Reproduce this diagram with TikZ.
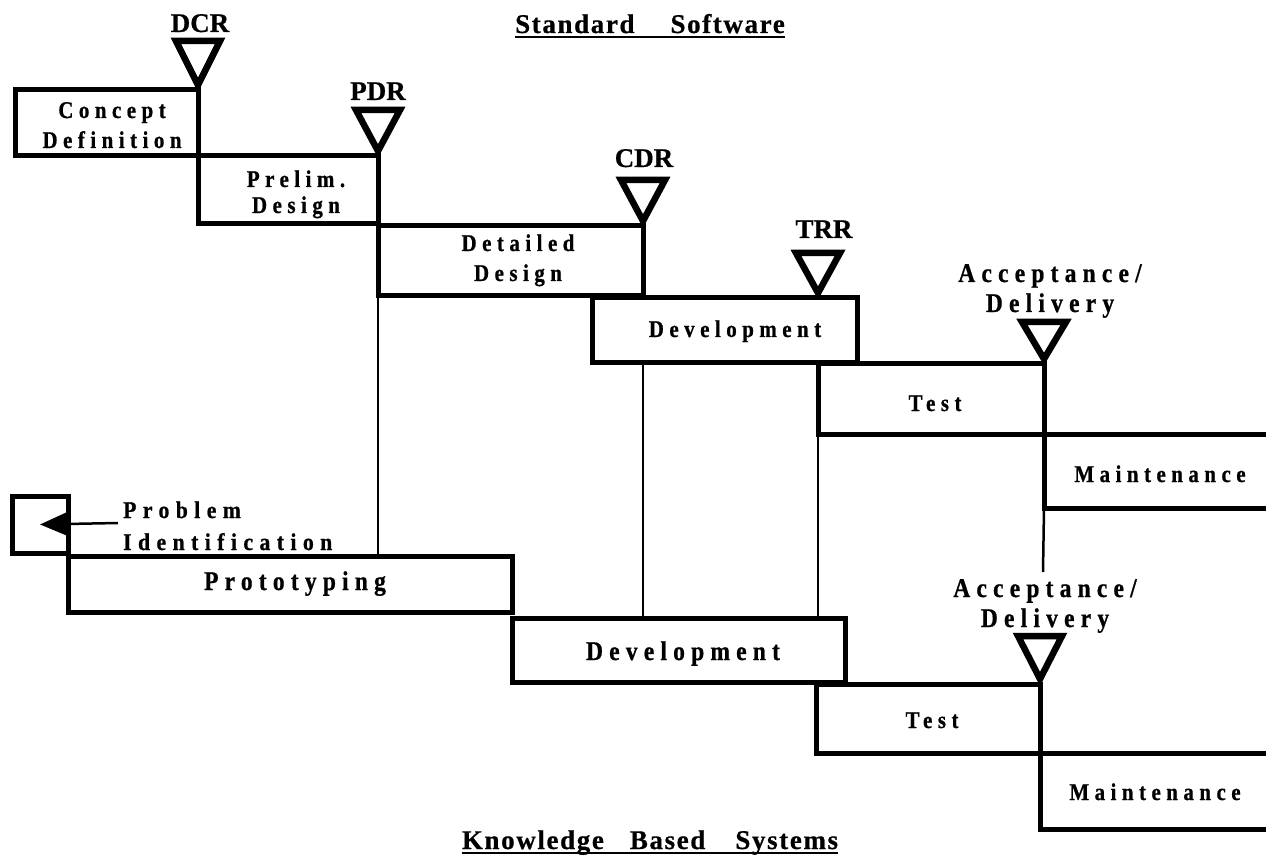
\documentclass[tikz,border=0pt]{standalone}
\usepackage{fontspec}
\setmainfont{Liberation Serif}
\newfontfamily\boxfont[LetterSpace=23,FakeStretch=0.87,FakeBold=0.8]{Liberation Serif}
\newfontfamily\probfont[LetterSpace=27,FakeStretch=0.9,FakeBold=0.8]{Liberation Serif}
\newfontfamily\titlefont[LetterSpace=6,FakeBold=0.6]{Liberation Serif}
\newfontfamily\revfont[FakeBold=0.6]{Liberation Serif}
\usetikzlibrary{arrows.meta}
\tikzset{
  stage/.style={draw, line width=5pt, inner sep=0pt, outer sep=0pt},
  conn/.style={line width=2.5pt},
  tri/.style={draw, line width=6.5pt, line join=miter},
  lbl/.style={inner sep=0pt, anchor=base, align=center,
    font=\boxfont\bfseries\fontsize{24}{30}\selectfont},
  lblbig/.style={inner sep=0pt, anchor=base, align=center,
    font=\boxfont\bfseries\fontsize{27}{30}\selectfont},
  acc/.style={inner sep=0pt, anchor=base, align=center,
    font=\boxfont\bfseries\fontsize{27}{30}\selectfont},
  review/.style={inner sep=0pt, anchor=base,
    font=\revfont\bfseries\fontsize{27}{30}\selectfont},
  ttl/.style={inner sep=0pt, anchor=base,
    font=\titlefont\bfseries\fontsize{27}{30}\selectfont},
  uline/.style={line width=2.5pt}
}
\begin{document}
\begin{tikzpicture}[x=1pt,y=-1pt]
\useasboundingbox (0,0) rectangle (1266,858);
\clip (0,0) rectangle (1266,858);

% titles
\node[ttl] (t1) at (650,33) {Standard\hspace{36pt}Software};
\draw[uline] ([yshift=-4pt]t1.base west) -- ([yshift=-4pt]t1.base east);
\node[ttl] (t2) at (650,849) {Knowledge\hspace{26pt}Based\hspace{30pt}Systems};
\draw[uline] ([yshift=-4pt]t2.base west) -- ([yshift=-4pt]t2.base east);

% standard software boxes
\node[stage, minimum width=183pt, minimum height=66pt] (concept) at (106.5,123) {};
\node[stage, minimum width=180pt, minimum height=68pt] (prelim) at (288,190) {};
\node[stage, minimum width=265pt, minimum height=70pt] (detailed) at (510.5,261) {};
\node[stage, minimum width=265pt, minimum height=65pt] (devtop) at (724.5,330.5) {};
\node[stage, minimum width=226pt, minimum height=70pt] (testtop) at (931,399) {};
\node[stage, minimum width=246pt, minimum height=74pt] (mainttop) at (1167,471) {};

% knowledge based boxes
\node[stage, minimum width=56pt, minimum height=57pt] (probbox) at (40,524.5) {};
\node[stage, minimum width=444pt, minimum height=56pt] (proto) at (290,584) {};
\node[stage, minimum width=333pt, minimum height=64pt] (devbot) at (678.5,650) {};
\node[stage, minimum width=224pt, minimum height=69pt] (testbot) at (928,718.5) {};
\node[stage, minimum width=250pt, minimum height=76pt] (maintbot) at (1165,791) {};

% labels in boxes (base = baseline of last line)
\node[lbl] (lconcept) at (112,148) {Concept\\Definition};
\node[lbl] (lprelim) at (296,213) {Prelim.\\[-4pt]Design};
\node[lbl] (ldetailed) at (518,281) {Detailed\\Design};
\node[lbl] (ldevtop) at (735,337) {Development};
\node[lbl] (ltesttop) at (935,411) {Test};
\node[lbl] (lmainttop) at (1160,482) {Maintenance};
\node[lblbig] (lproto) at (295,590) {Prototyping};
\node[lblbig] (ldevbot) at (683,660) {Development};
\node[lbl] (ltestbot) at (932,728) {Test};
\node[lbl] (lmaintbot) at (1155,800) {Maintenance};
\node[inner sep=0pt, anchor=base west, align=left,
  font=\probfont\bfseries\fontsize{24}{32}\selectfont] (lprob) at (123,550) {Problem\\Identification};

% thin connectors
\draw[conn] (detailed.south west) -- (detailed.south west |- proto.north);
\draw[conn] (detailed.south east |- devtop.south) -- (detailed.south east |- devbot.north);
\draw[conn] (testtop.south west) -- (testtop.south west |- devbot.north);
\coordinate (accend) at (1043,572);
\draw[conn] (mainttop.south west) -- (accend);
\coordinate (pstart) at (118,523);
\draw[conn, -{Triangle[length=26pt,width=22pt]}] (pstart) -- (probbox.center);

% review triangles
\coordinate (dcr) at (concept.north east);
\coordinate (pdr) at (prelim.north east);
\coordinate (cdr) at (detailed.north east);
\coordinate (trr) at (testtop.north west |- devtop.north);
\coordinate (acc1) at (testtop.north east);
\coordinate (acc2) at (testbot.north east);
\foreach \c/\h in {dcr/44,pdr/41,cdr/41,trr/40,acc1/37,acc2/43}{
  \draw[tri] ([yshift=5pt]\c) -- ++(-22,-\h) -- ++(44,0) -- cycle;
}

% review labels
\node[review] (ldcr) at (200,32) {DCR};
\node[review] (lpdr) at (378,100) {PDR};
\node[review] (lcdr) at (644,167) {CDR};
\node[review] (ltrr) at (824,238) {TRR};
\node[acc] (lacc1) at (1050,312) {Acceptance/\\Delivery};
\node[acc] (lacc2) at (1045,627) {Acceptance/\\Delivery};
\end{tikzpicture}
\end{document}
